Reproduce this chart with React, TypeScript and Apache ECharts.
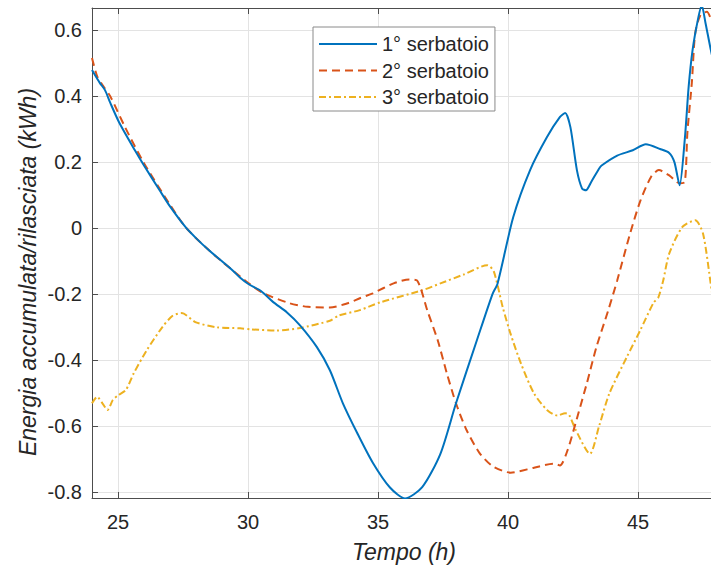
import React, { useEffect, useRef } from "react";
import * as echarts from "echarts";

// Serie 1° serbatoio
const T1 = [24.0, 24.3, 24.5, 24.7, 25.04, 25.65, 26.0, 26.6, 27.0, 27.6, 28.0, 28.5, 29.0, 29.4, 29.7, 30.0, 30.5, 30.96, 31.5, 32.0, 32.65, 33.15, 33.65, 34.2, 34.8, 35.46, 36.04, 36.7, 37.4, 38.0, 38.8, 39.4, 39.6, 40.2, 40.85, 41.5, 42.0, 42.2, 42.4, 42.65, 42.85, 43.0, 43.2, 43.5, 43.6, 44.2, 44.8, 45.3, 45.85, 46.2, 46.4, 46.6, 46.8, 46.95, 47.1, 47.3, 47.45, 47.6, 47.8, 48.0];
const V1 = [0.479, 0.44, 0.418, 0.38, 0.321, 0.236, 0.19, 0.115, 0.066, 0.003, -0.03, -0.067, -0.1, -0.127, -0.15, -0.168, -0.19, -0.223, -0.255, -0.294, -0.36, -0.43, -0.53, -0.62, -0.71, -0.785, -0.818, -0.784, -0.683, -0.53, -0.34, -0.2, -0.167, 0.033, 0.176, 0.276, 0.337, 0.349, 0.306, 0.176, 0.12, 0.115, 0.14, 0.18, 0.19, 0.22, 0.236, 0.254, 0.24, 0.228, 0.2, 0.13, 0.27, 0.43, 0.54, 0.63, 0.675, 0.62, 0.54, 0.47];

// Serie 2° serbatoio
const T2 = [24.0, 24.2, 24.45, 24.7, 25.27, 26.0, 26.96, 27.6, 28.5, 29.4, 30.0, 30.6, 31.6, 32.3, 33.15, 33.8, 34.3, 34.8, 35.6, 36.2, 36.5, 36.9, 37.3, 37.65, 38.0, 38.4, 38.9, 39.4, 40.1, 41.0, 41.75, 42.0, 42.3, 42.6, 43.03, 43.4, 43.85, 44.2, 44.7, 45.1, 45.5, 45.8, 46.2, 46.6, 46.8, 46.9, 47.07, 47.2, 47.4, 47.65, 47.8, 48.0];
const V2 = [0.515, 0.46, 0.428, 0.4, 0.306, 0.197, 0.076, 0.003, -0.067, -0.127, -0.165, -0.197, -0.227, -0.238, -0.24, -0.228, -0.212, -0.197, -0.167, -0.155, -0.158, -0.25, -0.34, -0.44, -0.53, -0.61, -0.68, -0.72, -0.74, -0.725, -0.713, -0.718, -0.67, -0.59, -0.47, -0.36, -0.25, -0.158, -0.015, 0.085, 0.155, 0.176, 0.16, 0.136, 0.14, 0.29, 0.44, 0.59, 0.645, 0.655, 0.635, 0.6];

// Serie 3° serbatoio
const T3 = [24.0, 24.2, 24.4, 24.6, 24.8, 25.0, 25.3, 25.6, 26.1, 26.7, 27.1, 27.45, 28.0, 28.8, 29.7, 30.1, 31.1, 32.0, 33.15, 33.5, 34.3, 35.1, 36.7, 37.4, 38.3, 39.2, 39.45, 39.8, 40.1, 40.5, 41.0, 41.5, 41.9, 42.2, 42.35, 42.6, 43.15, 43.5, 43.9, 44.57, 45.08, 45.6, 45.78, 45.97, 46.2, 46.7, 47.2, 47.5, 47.8, 48.0];
const V3 = [-0.53, -0.51, -0.53, -0.55, -0.52, -0.506, -0.49, -0.44, -0.37, -0.3, -0.265, -0.257, -0.285, -0.3, -0.303, -0.306, -0.31, -0.302, -0.28, -0.264, -0.248, -0.224, -0.188, -0.167, -0.14, -0.112, -0.13, -0.24, -0.32, -0.41, -0.5, -0.55, -0.567, -0.56, -0.565, -0.61, -0.683, -0.6, -0.5, -0.39, -0.31, -0.225, -0.21, -0.158, -0.077, 0.003, 0.024, -0.016, -0.17, -0.28];

const NAMES = ["1° serbatoio", "2° serbatoio", "3° serbatoio"];
const COLORS = ["#0072BD", "#D95319", "#EDB120"];
const X_MIN = 24;
const X_MAX = 48;
const Y_MIN = -0.8167;
const Y_MAX = 0.6667;
const X_TITLE = "Tempo (h)";
const Y_TITLE = "Energia accumulata/rilasciata (kWh)";

const FONT = "'Liberation Sans', Arial, Helvetica, sans-serif";
const TXT = "#262626";

export default function App() {
  const ref = useRef<HTMLDivElement>(null);
  useEffect(() => {
    if (!ref.current) return;
    const chart = echarts.init(ref.current, undefined, { renderer: "svg" });
    const mk = (T: number[], V: number[]) => T.map((t, i) => [t, V[i]]);
    const dash = [[0], [8, 5], [7, 3, 2, 3]];
    const series = [mk(T1, V1), mk(T2, V2), mk(T3, V3)].map((d, i) => ({
      name: NAMES[i],
      type: "line",
      data: d,
      showSymbol: false,
      symbol: "none",
      smooth: 0.25,
      xAxisIndex: 0,
      yAxisIndex: 0,
      lineStyle: { color: COLORS[i], width: 2, type: i === 0 ? "solid" : dash[i] },
      itemStyle: { color: COLORS[i] },
      z: 3 - i,
    }));
    const axisLine = { show: true, onZero: false, lineStyle: { color: "#4d4d4d", width: 1 } };
    const tick = { show: true, inside: true, length: 6, lineStyle: { color: "#4d4d4d" } };
    chart.setOption({
      animation: false,
      backgroundColor: "#ffffff",
      grid: { left: 92, right: 4, top: 8, bottom: 76, containLabel: false },
      legend: {
        orient: "vertical",
        left: 313,
        top: 27,
        padding: [7, 6, 4, 5],
        itemWidth: 58,
        itemHeight: 14,
        itemGap: 6.5,
        backgroundColor: "#ffffff",
        borderColor: "#8a8a8a",
        borderWidth: 1,
        borderRadius: 0,
        data: NAMES,
        itemStyle: { opacity: 0 },
        textStyle: { fontFamily: FONT, fontSize: 20, color: TXT, lineHeight: 20 },
      },
      xAxis: [
        {
          type: "value",
          min: X_MIN,
          max: X_MAX,
          splitNumber: 5,
          axisLine,
          axisTick: tick,
          axisLabel: { showMinLabel: false, showMaxLabel: false, fontFamily: FONT, fontSize: 20, color: TXT, margin: 14 },
          splitLine: { show: true, lineStyle: { color: "#e3e3e3", width: 1 } },
        },
        {
          type: "value",
          position: "top",
          min: X_MIN,
          max: X_MAX,
          splitNumber: 5,
          axisLine,
          axisTick: tick,
          axisLabel: { show: false },
          splitLine: { show: false },
        },
      ],
      yAxis: [
        {
          type: "value",
          min: Y_MIN,
          max: Y_MAX,
          splitNumber: 7,
          axisLine,
          axisTick: tick,
          axisLabel: { showMinLabel: false, showMaxLabel: false, fontFamily: FONT, fontSize: 20, color: TXT, margin: 10 },
          splitLine: { show: true, lineStyle: { color: "#e3e3e3", width: 1 } },
        },
      ],
      graphic: [
        {
          type: "text",
          x: 404,
          y: 552,
          style: { text: X_TITLE, fontFamily: FONT, fontSize: 23, fontStyle: "italic", fill: TXT, textAlign: "center", textVerticalAlign: "middle" },
        },
        {
          type: "text",
          x: 28,
          y: 272,
          rotation: Math.PI / 2,
          style: { text: Y_TITLE, fontFamily: FONT, fontSize: 23, fontStyle: "italic", fill: TXT, textAlign: "center", textVerticalAlign: "middle" },
        },
      ],
      series,
    });
    return () => chart.dispose();
  }, []);
  return (
    <div style={{ position: "fixed", left: 0, top: 0, width: 711, height: 574, overflow: "hidden", background: "#fff" }}>
      <div ref={ref} style={{ width: 720, height: 574 }} />
    </div>
  );
}
